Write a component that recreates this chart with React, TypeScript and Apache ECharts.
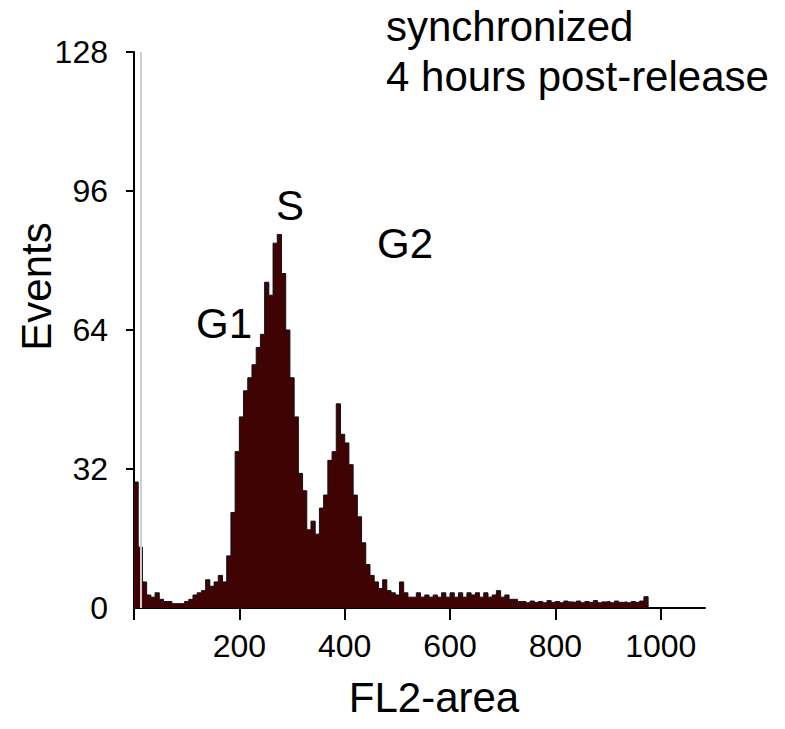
import React, { useEffect, useRef } from "react";
import * as echarts from "echarts";

// Histogram bin width in FL2-area channel units
const binWidth = 8;

// Events per bin, starting at FL2-area = 0
const counts: number[] = [
  29, 14, 6, 3, 2.5, 3.5, 2, 1.5, 1.5, 1,
  1, 1, 1.5, 2, 3, 3.5, 4, 6.5, 5, 6,
  7.5, 6, 12, 22, 36, 44, 50, 53, 56, 60,
  63, 75, 72, 84, 86, 77, 64, 53, 44, 31,
  27, 18, 20, 17, 23, 26, 34, 36, 47, 40,
  38, 33, 26, 21, 15, 10, 7.5, 6, 4.5, 6.5,
  4, 3.5, 3, 6, 3.5, 2.5, 2.5, 3.5, 2.5, 3,
  2.5, 3, 2.5, 3.5, 2.5, 3.5, 2.5, 3.5, 2.5, 3.5,
  3, 3.5, 2.5, 3.5, 2.5, 3, 4, 2.5, 3, 2,
  2, 1.5, 1.5, 1.2, 1.6, 1.3, 1.5, 1.2, 1.7, 1.3,
  1.5, 1.2, 1.6, 1.4, 1.3, 1.6, 1.2, 1.5, 1.3, 1.7,
  1.2, 1.4, 1.5, 1.2, 1.6, 1.3, 1.4, 1.2, 1.5, 1.3,
  1.6, 2.6,
];

const xTickValues = [0, 200, 400, 600, 800, 1000];
const xLabelValues = [200, 400, 600, 800, 1000];
const yTickValues = [32, 64, 96, 128];
const yLabelValues = [0, 32, 64, 96, 128];

const titleLines = ["synchronized", "4 hours post-release"];
const phaseLabels = [
  { text: "S", x: 290, y: 205 },
  { text: "G1", x: 224, y: 323 },
  { text: "G2", x: 405, y: 243 },
];

const FONT = "'Liberation Sans', Arial, Helvetica, sans-serif";

export default function App() {
  const ref = useRef<HTMLDivElement>(null);

  useEffect(() => {
    if (!ref.current) return;
    const chart = echarts.init(ref.current, undefined, { renderer: "svg" });

    const points: [number, number][] = counts.map((c, i) => [i * binWidth, c]);
    points.push([counts.length * binWidth, 0]);

    chart.setOption({
      animation: false,
      backgroundColor: "#ffffff",
      title: {
        text: titleLines.join("\n"),
        left: 386,
        top: 1,
        padding: 0,
        textStyle: {
          fontFamily: FONT,
          fontSize: 42,
          lineHeight: 50,
          fontWeight: "normal",
          color: "#000000",
        },
      },
      grid: {
        left: 134,
        right: 80,
        top: 52,
        bottom: 121,
        containLabel: false,
        outerBoundsMode: "none",
      },
      xAxis: {
        type: "value",
        min: 0,
        max: 1084,
        interval: 200,
        name: "FL2-area",
        nameLocation: "middle",
        nameGap: 68,
        nameMoveOverlap: false,
        nameTextStyle: {
          fontFamily: FONT,
          fontSize: 42,
          color: "#000000",
          padding: [0, 0, 0, 29],
        },
        axisLine: { show: true, lineStyle: { color: "#000000", width: 2 } },
        axisTick: {
          show: true,
          length: 12,
          customValues: xTickValues,
          lineStyle: { color: "#000000", width: 2 },
        },
        axisLabel: {
          customValues: xLabelValues,
          formatter: (v: number) => String(v),
          margin: 22,
          fontFamily: FONT,
          fontSize: 32,
          color: "#000000",
        },
        splitLine: { show: false },
      },
      yAxis: [
        {
          type: "value",
          min: 0,
          max: 128,
          interval: 32,
          name: "Events",
          nameLocation: "middle",
          nameGap: 77,
          nameMoveOverlap: false,
          nameRotate: 90,
          nameTextStyle: {
            fontFamily: FONT,
            fontSize: 42,
            color: "#000000",
            padding: [0, 0, 0, 87],
          },
          axisLine: { show: true, lineStyle: { color: "#000000", width: 2 } },
          axisTick: {
            show: true,
            length: 8,
            customValues: yTickValues,
            lineStyle: { color: "#000000", width: 2 },
          },
          axisLabel: {
            customValues: yLabelValues,
            formatter: (v: number) => String(v),
            margin: 26,
            fontFamily: FONT,
            fontSize: 32,
            color: "#000000",
          },
          splitLine: { show: false },
        },
        {
          type: "value",
          position: "left",
          offset: 0,
          min: 0,
          max: 128,
          interval: 32,
          axisLine: { show: false },
          axisTick: {
            show: true,
            length: 8,
            customValues: yTickValues,
            lineStyle: { color: "#000000", width: 2 },
          },
          axisLabel: { show: false },
          splitLine: { show: false },
        },
      ],
      graphic: phaseLabels.map((p) => ({
        type: "text",
        x: p.x,
        y: p.y,
        style: {
          text: p.text,
          fontFamily: FONT,
          fontSize: 42,
          fill: "#000000",
          textAlign: "center",
          textVerticalAlign: "middle",
        },
      })),
      series: [
        {
          type: "line",
          yAxisIndex: 0,
          step: "end",
          data: points,
          symbol: "none",
          lineStyle: { color: "#111111", width: 1 },
          areaStyle: { color: "#3f0303", opacity: 1 },
          markLine: {
            silent: true,
            symbol: "none",
            label: { show: false },
            lineStyle: { color: "#cfcfcf", width: 2, type: "solid" },
            data: [{ xAxis: 12 }],
          },
        },
      ],
    });

    return () => chart.dispose();
  }, []);

  return (
    <div
      ref={ref}
      style={{ position: "absolute", left: 0, top: 0, width: 785, height: 729 }}
    />
  );
}
